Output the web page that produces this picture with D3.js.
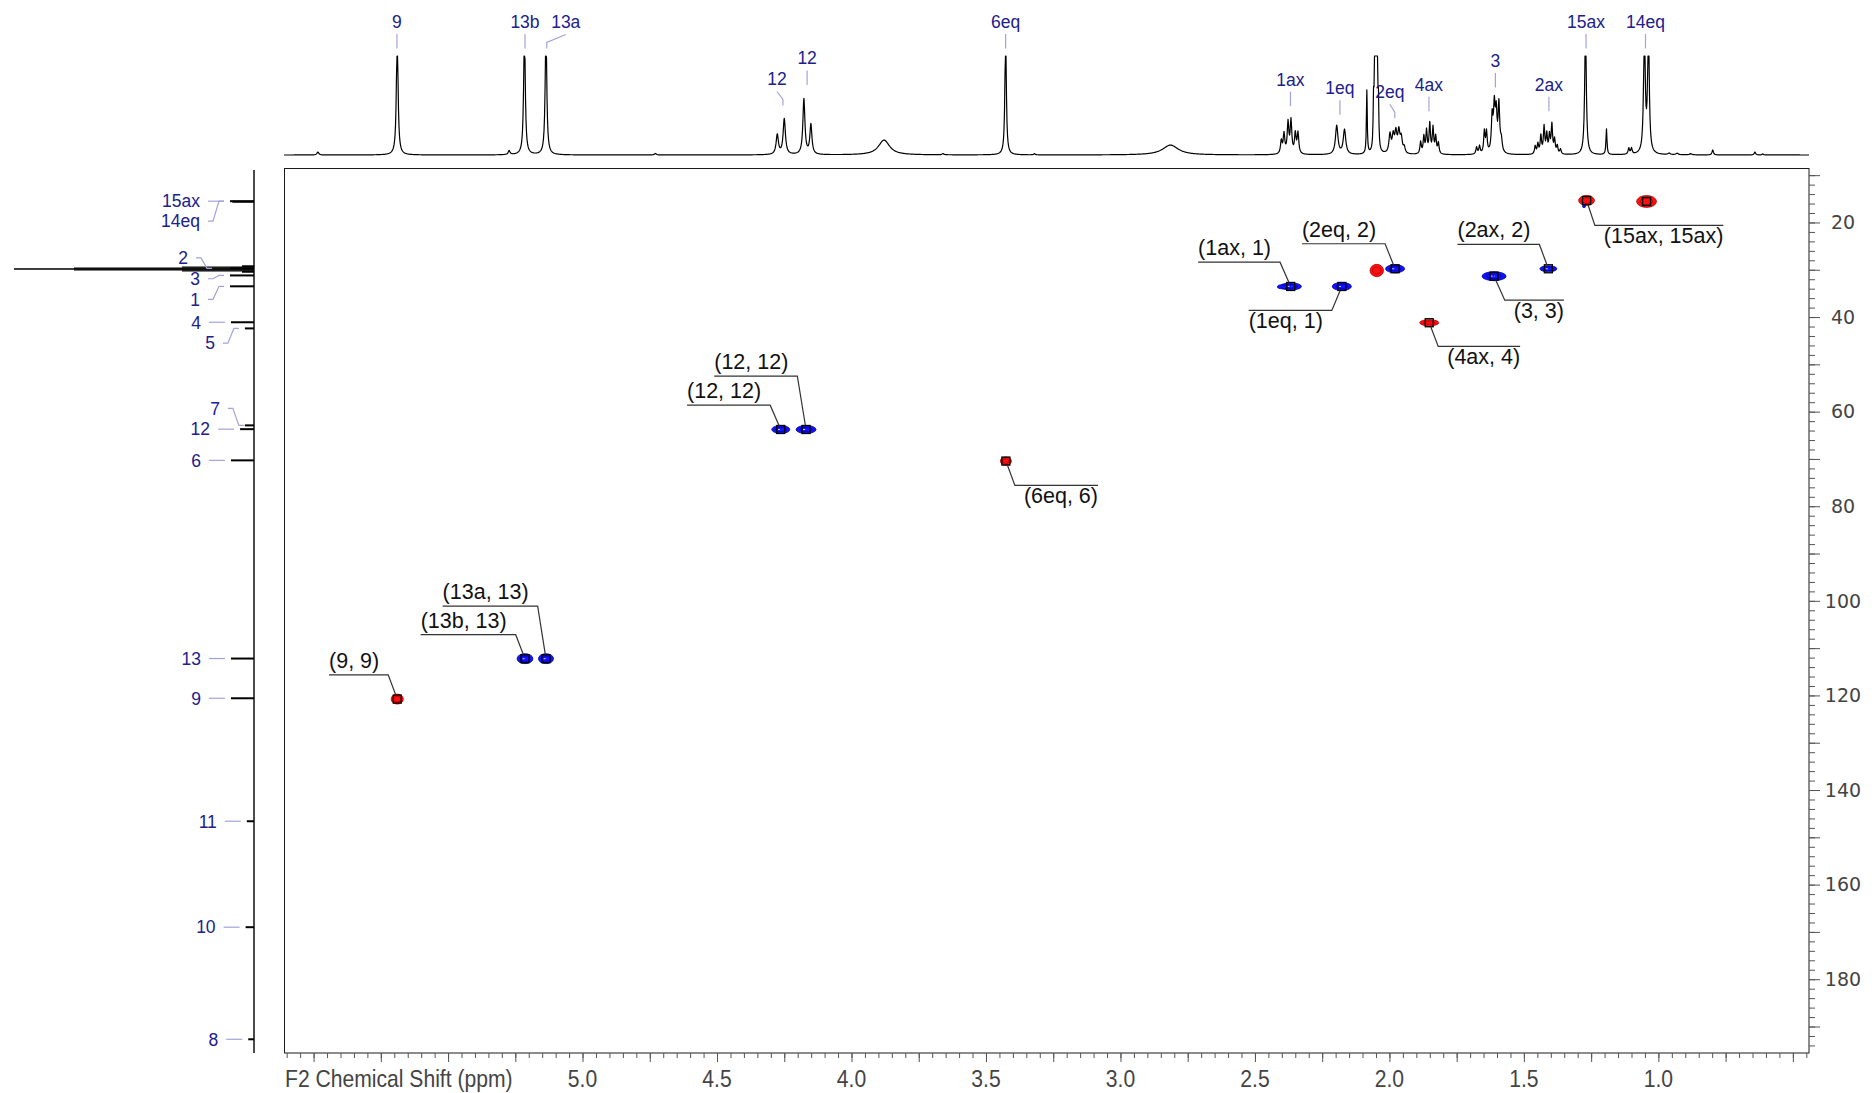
<!DOCTYPE html>
<html>
<head>
<meta charset="utf-8">
<title>HSQC</title>
<script src="https://cdn.jsdelivr.net/npm/d3@7"></script>
<style>
  html, body { margin: 0; padding: 0; background: #fff; }
  svg { display: block; }
</style>
</head>
<body>
<svg id="chart" width="1872" height="1093"></svg>
<script>
// ---------------------------------------------------------------
// 1H projection (top trace): [shift ppm, height, half-width ppm]
// heights above 1 run off the top of the trace and are clipped
// ---------------------------------------------------------------
const protonPeaks = [
  [5.984, 0.03, 0.004],
  [5.689, 1.3, 0.0035],
  [5.273, 0.04, 0.004],
  [5.216, 1.3, 0.0035],
  [5.136, 1.3, 0.0035],
  [4.729, 0.015, 0.004],
  [4.276, 0.20, 0.005], [4.250, 0.36, 0.005],
  [4.177, 0.56, 0.0045], [4.151, 0.30, 0.0045],
  [3.879, 0.15, 0.025],
  [3.660, 0.012, 0.004],
  [3.427, 1.3, 0.003],
  [3.320, 0.012, 0.003],
  [2.814, 0.10, 0.035],
  [2.402, 0.13, 0.0035], [2.392, 0.20, 0.0035], [2.377, 0.31, 0.0035],
  [2.366, 0.33, 0.0035], [2.350, 0.20, 0.0035], [2.340, 0.21, 0.0035],
  [2.196, 0.29, 0.0055], [2.167, 0.25, 0.0055],
  [2.084, 0.64, 0.0018],
  [2.059, 0.45, 0.0018], [2.0545, 1.1, 0.0018], [2.050, 1.6, 0.0018],
  [2.0455, 1.1, 0.0018], [2.041, 0.45, 0.0018],
  [1.998, 0.19, 0.0045], [1.986, 0.17, 0.0045], [1.976, 0.20, 0.0045],
  [1.965, 0.21, 0.0045], [1.956, 0.15, 0.0045], [1.945, 0.06, 0.004],
  [1.884, 0.12, 0.003], [1.872, 0.17, 0.003], [1.862, 0.23, 0.003],
  [1.850, 0.30, 0.003], [1.838, 0.26, 0.003], [1.828, 0.17, 0.003], [1.818, 0.11, 0.003],
  [1.676, 0.07, 0.003], [1.665, 0.08, 0.003], [1.647, 0.22, 0.003], [1.639, 0.21, 0.003],
  [1.618, 0.36, 0.0035], [1.610, 0.44, 0.0035], [1.603, 0.38, 0.0035],
  [1.593, 0.48, 0.0035], [1.584, 0.12, 0.004],
  [1.458, 0.08, 0.003], [1.448, 0.10, 0.003], [1.437, 0.18, 0.003], [1.425, 0.27, 0.003],
  [1.415, 0.19, 0.003], [1.405, 0.18, 0.003], [1.396, 0.29, 0.003], [1.386, 0.14, 0.003],
  [1.376, 0.08, 0.003], [1.364, 0.05, 0.003],
  [1.271, 1.3, 0.0035],
  [1.193, 0.26, 0.0022],
  [1.110, 0.06, 0.003], [1.100, 0.06, 0.003],
  [1.052, 1.3, 0.0035], [1.037, 1.3, 0.0035],
  [0.960, 0.015, 0.005], [0.930, 0.015, 0.005], [0.880, 0.012, 0.005],
  [0.798, 0.05, 0.003], [0.641, 0.03, 0.003], [0.612, 0.01, 0.003]
];

// proton assignments: [name, shift the leader points at]
const protonLabels = [
  ["9", 5.690], ["13b", 5.214], ["13a", 5.133], ["12", 4.255], ["12", 4.165],
  ["6eq", 3.427], ["1ax", 2.368], ["1eq", 2.184], ["2eq", 1.980], ["4ax", 1.853],
  ["3", 1.606], ["2ax", 1.407], ["15ax", 1.269], ["14eq", 1.048]
];

// 13C projection (left trace): [shift ppm, relative height]
const carbonPeaks = [
  [15.50, 1.0], [15.62, 0.9],
  [29.26, 0.5], [29.45, 3.0], [29.65, 7.5], [29.84, 10.0], [30.03, 7.5], [30.23, 3.0], [30.42, 0.5],
  [29.70, 1.0],
  [31.2, 1.0], [33.5, 1.0], [41.1, 0.96], [42.4, 0.38],
  [62.9, 0.38], [63.7, 0.58], [70.3, 0.96],
  [112.2, 0.96], [120.6, 0.96], [146.6, 0.30], [169.0, 0.35], [192.7, 0.24]
];

// carbon assignments: [name, shift, height of the line it marks]
const carbonLabels = [
  ["15ax", 15.5, 1.0], ["14eq", 15.5, 1.0], ["2", 29.7, 1.0], ["3", 31.2, 1.0],
  ["1", 33.5, 1.0], ["4", 41.1, 0.96], ["5", 42.4, 0.38], ["7", 62.9, 0.38],
  ["12", 63.7, 0.58], ["6", 70.3, 0.96], ["13", 112.2, 0.96], ["9", 120.6, 0.96],
  ["11", 146.6, 0.30], ["10", 169.0, 0.35], ["8", 192.7, 0.24]
];

// HSQC cross peaks: [label, 1H ppm, 13C ppm, phase, 1H width ppm, 13C width ppm, picked]
const crossPeaks = [
  ["(9, 9)", 5.689, 120.77, -1, 0.045, 2.1, true],
  ["(13b, 13)", 5.214, 112.23, 1, 0.059, 2.1, true],
  ["(13a, 13)", 5.136, 112.23, 1, 0.056, 2.1, true],
  ["(12, 12)", 4.263, 63.77, 1, 0.067, 1.7, true],
  ["(12, 12)", 4.169, 63.77, 1, 0.074, 1.7, true],
  ["(6eq, 6)", 3.426, 70.45, -1, 0.041, 1.7, true],
  ["(1ax, 1)", 2.367, 33.53, 1, 0.080, 1.5, true],
  ["", 2.398, 33.60, 1, 0.037, 0.85, false],
  ["(1eq, 1)", 2.177, 33.53, 1, 0.071, 1.7, true],
  ["", 2.047, 30.16, -1, 0.050, 2.6, false],
  ["(2eq, 2)", 1.979, 29.79, 1, 0.071, 1.7, true],
  ["(4ax, 4)", 1.852, 41.20, -1, 0.071, 1.3, true],
  ["(3, 3)", 1.611, 31.36, 1, 0.089, 1.9, true],
  ["(2ax, 2)", 1.409, 29.79, 1, 0.063, 1.3, true],
  ["(15ax, 15ax)", 1.267, 15.35, -1, 0.059, 2.1, true],
  ["", 1.044, 15.56, -1, 0.074, 2.5, true],
  ["", 1.2765, 16.56, 1, 0.011, 0.6, false]
];

const f2TickLabels = [5.0, 4.5, 4.0, 3.5, 3.0, 2.5, 2.0, 1.5, 1.0];
const f1TickLabels = [20, 40, 60, 80, 100, 120, 140, 160, 180];
const f2Title = "F2 Chemical Shift (ppm)";

// ---------------------------------------------------------------
// layout
// ---------------------------------------------------------------
const X0 = 284, X1 = 1809, Y0 = 168.5, Y1 = 1053;
const NAVY = "#20208c", LAVENDER = "#a3a3dc";

// label centre y and horizontal shift of the text from its leader
const protonLabelLayout = [
  [21.5, 0], [21.5, 0], [21.5, 19], [78.5, -6], [58, 0],
  [21.5, 0], [79.2, 0], [87.7, 0], [91.2, -5], [84.3, 0],
  [60.4, 0], [84.3, 0], [21.5, 0], [21.5, 0]
];
// vertical offset of each carbon label and horizontal shift of its leader
const carbonLabelLayout = [
  [0, 0], [20, 0], [-10.5, -12], [3.3, 0], [13, 0], [0, 0], [14.7, 0], [-17, 5],
  [0, 0], [0, 0], [0, 0], [0, 0], [0, 0], [0, 0], [0, 0]
];
// elbow of each cross-peak callout relative to its marker
const calloutLayout = [
  [-9, -24.3], [-9.3, -24], [-8.3, -52.6], [-10.6, -24.3], [-8.7, -53.3], [9, 24.3],
  [-10.7, -24.3], null, [-10, 24], null, [-10, -25], [9, 23.7], [10.7, 24],
  [-9, -24.3], [8.3, 25], null, null
];

const svg = d3.select("#chart");
const x = d3.scaleLinear().domain([6.11, 0.44]).range([X0, X1]);
const y = d3.scaleLinear().domain([8.59, 195.6]).range([Y0, Y1]);
const yTop = d3.scaleLinear().domain([0, 1]).range([155, 56]);
const xLeft = d3.scaleLinear().domain([0, 1]).range([254, 230]);

// ---------------- plot frame ----------------
svg.append("rect")
  .attr("x", X0 + 0.5).attr("y", Y0)
  .attr("width", X1 - X0 - 0.5).attr("height", Y1 - Y0)
  .attr("fill", "none").attr("stroke", "#1a1a1a").attr("stroke-width", 1);

// ---------------- F2 axis (bottom) ----------------
const f2Minor = d3.range(9, 123).map(k => +(k * 0.05).toFixed(2));
const f2Major = f2Minor.filter(v => Math.round(v * 100) % 25 === 0);
function styleAxis(g) {
  g.select(".domain").remove();
  g.selectAll(".tick line").attr("stroke", "#555").attr("stroke-width", 1);
}
svg.append("g").attr("transform", `translate(0,${Y1})`)
  .call(d3.axisBottom(x).tickValues(f2Minor).tickSize(5).tickFormat(""))
  .call(styleAxis);
svg.append("g").attr("transform", `translate(0,${Y1})`)
  .call(d3.axisBottom(x).tickValues(f2Major).tickSize(9).tickFormat(""))
  .call(styleAxis);

const narrow = 0.88;
svg.append("g").selectAll("text").data(f2TickLabels).join("text")
  .attr("transform", d => `translate(${x(d)},1087) scale(${narrow},1)`)
  .attr("text-anchor", "middle")
  .attr("font-family", "Liberation Sans, Arial, sans-serif")
  .attr("font-size", 24).attr("fill", "#444")
  .text(d => d.toFixed(1));
svg.append("text")
  .attr("transform", `translate(${X0 + 1},1087) scale(${narrow},1)`)
  .attr("font-family", "Liberation Sans, Arial, sans-serif")
  .attr("font-size", 24).attr("fill", "#444")
  .text(f2Title);

// ---------------- F1 axis (right) ----------------
svg.append("g").attr("transform", `translate(${X1},0)`)
  .call(d3.axisRight(y).tickValues(d3.range(10, 196, 2)).tickSize(6).tickFormat(""))
  .call(styleAxis);
svg.append("g").attr("transform", `translate(${X1},0)`)
  .call(d3.axisRight(y).tickValues(d3.range(10, 196, 10)).tickSize(11).tickFormat(""))
  .call(styleAxis);
svg.append("g").selectAll("text").data(f1TickLabels).join("text")
  .attr("x", 1843).attr("y", d => y(d)).attr("dy", "0.36em")
  .attr("text-anchor", "middle")
  .attr("font-family", "DejaVu Sans, Verdana, sans-serif")
  .attr("font-size", 19).attr("fill", "#444")
  .text(d => d);

// ---------------- 1H trace (top) ----------------
const shifts = d3.range(X0, X1 + 0.01, 0.5).map(px => x.invert(px))
  .concat(protonPeaks.map(p => p[0]))
  .sort((a, b) => b - a);
const trace = shifts.map(v => [v, Math.min(1, d3.sum(protonPeaks,
  p => p[1] / (1 + ((v - p[0]) / p[2]) ** 2)))]);
svg.append("path")
  .datum(trace)
  .attr("fill", "none").attr("stroke", "#000").attr("stroke-width", 1.2)
  .attr("stroke-linejoin", "round")
  .attr("d", d3.line().x(d => x(d[0])).y(d => yTop(d[1])));

const topLab = svg.append("g");
protonLabels.forEach((d, i) => {
  const [ly, dx] = protonLabelLayout[i];
  const tip = x(d[1]);
  const tx = tip + dx;
  topLab.append("path")
    .attr("fill", "none").attr("stroke", LAVENDER).attr("stroke-width", 1.2)
    .attr("d", dx === 0
      ? `M${tip},${ly + 12.5}V${ly + 27}`
      : `M${tx},${ly + 13}L${tip},${ly + 21}V${ly + 27}`);
  topLab.append("text")
    .attr("x", tx).attr("y", ly).attr("dy", "0.36em")
    .attr("text-anchor", "middle")
    .attr("font-family", "Liberation Sans, Arial, sans-serif")
    .attr("font-size", 17.5).attr("fill", NAVY)
    .text(d[0]);
});

// ---------------- 13C trace (left) ----------------
svg.append("line")
  .attr("x1", xLeft(0)).attr("x2", xLeft(0))
  .attr("y1", Y0 + 1.5).attr("y2", Y1)
  .attr("stroke", "#111").attr("stroke-width", 1.5);
svg.append("g").selectAll("line").data(carbonPeaks).join("line")
  .attr("x1", xLeft(0)).attr("x2", d => xLeft(d[1]))
  .attr("y1", d => y(d[0])).attr("y2", d => y(d[0]))
  .attr("stroke", "#000").attr("stroke-width", d => d[1] > 1 ? 1.4 : 2);

const leftLab = svg.append("g");
carbonLabels.forEach((d, i) => {
  const [dy, dx] = carbonLabelLayout[i];
  const py = y(d[1]);
  const ly = py + dy;
  const tip = xLeft(d[2]) - 6 + dx;
  leftLab.append("path")
    .attr("fill", "none").attr("stroke", LAVENDER).attr("stroke-width", 1.2)
    .attr("d", dy === 0
      ? `M${tip - 16},${py}H${tip}`
      : `M${tip - 16},${ly}H${tip - 11}L${tip - 5},${py}H${tip}`);
  leftLab.append("text")
    .attr("x", tip - 24).attr("y", ly).attr("dy", "0.36em")
    .attr("text-anchor", "end")
    .attr("font-family", "Liberation Sans, Arial, sans-serif")
    .attr("font-size", 17.5).attr("fill", NAVY)
    .text(d[0]);
});

// ---------------- cross peaks ----------------
const peaksG = svg.append("g");
crossPeaks.forEach(d => {
  const [, h, c, phase, wh, wc] = d;
  const cx = x(h), cy = y(c);
  const rx = Math.abs(x(h - wh / 2) - x(h + wh / 2)) / 2;
  const ry = Math.abs(y(c + wc / 2) - y(c - wc / 2)) / 2;
  const fill = phase > 0 ? "#1212ff" : "#ff1010";
  const edge = phase > 0 ? "#0000a0" : "#b00000";
  peaksG.append("ellipse")
    .attr("cx", cx).attr("cy", cy).attr("rx", rx).attr("ry", ry)
    .attr("fill", fill).attr("stroke", edge).attr("stroke-width", 0.8);
  if (rx > 5) {
    peaksG.append("ellipse")
      .attr("cx", cx).attr("cy", cy).attr("rx", rx * 0.62).attr("ry", ry * 0.55)
      .attr("fill", "none").attr("stroke", edge).attr("stroke-width", 0.8);
    if (phase > 0) {
      peaksG.append("line")
        .attr("x1", cx - rx * 0.3).attr("x2", cx + rx * 0.05)
        .attr("y1", cy).attr("y2", cy)
        .attr("stroke", "#c8c8ff").attr("stroke-width", 1).attr("stroke-dasharray", "2,1.5");
    }
  }
});

// peak-pick markers and callouts
const calloutG = svg.append("g");
crossPeaks.forEach((d, i) => {
  if (!d[6]) return;
  const mx = x(d[1]), my = y(d[2]);
  calloutG.append("rect")
    .attr("x", mx - 4).attr("y", my - 4).attr("width", 8).attr("height", 8)
    .attr("fill", "none").attr("stroke", "#000").attr("stroke-width", 1.3);
  const lay = calloutLayout[i];
  if (!lay || !d[0]) return;
  const [ex, ey] = lay;
  const bx = mx + ex, by = my + ey;
  const t = 4 / Math.abs(ey);
  const sx = mx + ex * t, sy = my + ey * t;
  const txt = calloutG.append("text")
    .attr("font-family", "Liberation Sans, Arial, sans-serif")
    .attr("font-size", 21.5).attr("fill", "#111")
    .text(d[0]);
  const w = txt.node().getComputedTextLength();
  const dir = ex < 0 ? -1 : 1;
  const endX = bx + dir * (w + 9);
  txt.attr("x", endX)
    .attr("y", ey < 0 ? by - 7 : by + 18)
    .attr("text-anchor", dir < 0 ? "start" : "end");
  calloutG.append("path")
    .attr("fill", "none").attr("stroke", "#333").attr("stroke-width", 1.2)
    .attr("d", `M${sx},${sy}L${bx},${by}H${endX}`);
});
</script>
</body>
</html>
